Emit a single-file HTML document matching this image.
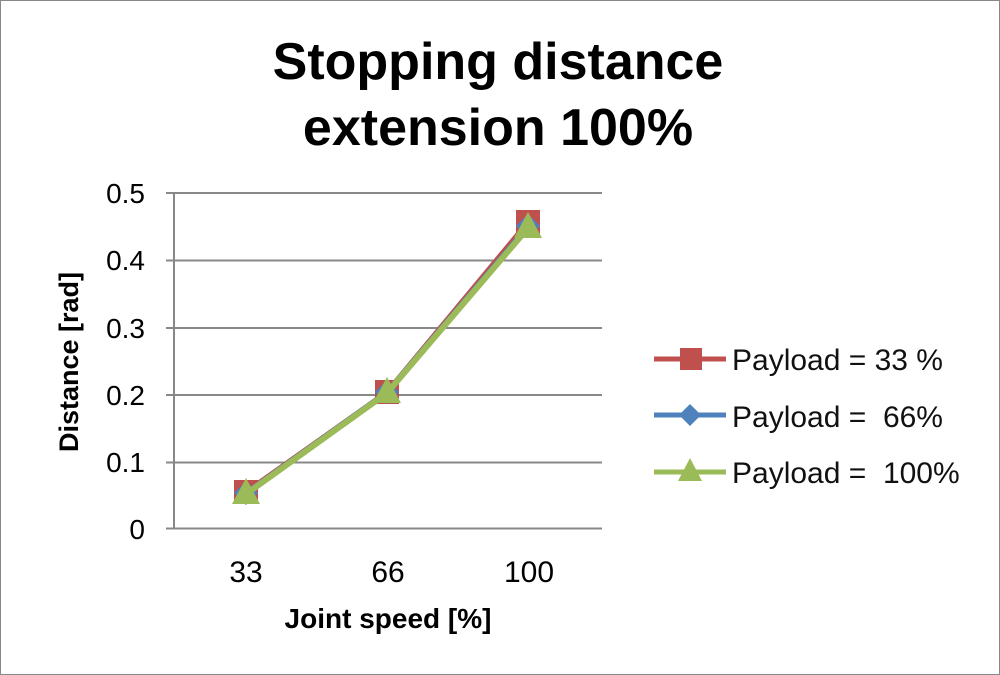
<!DOCTYPE html>
<html><head><meta charset="utf-8"><style>
html,body{margin:0;padding:0;background:#fff;}
svg{display:block;}
text{font-family:"Liberation Sans",sans-serif;}
</style></head><body>
<svg width="1000" height="675" viewBox="0 0 1000 675">
<rect x="0.5" y="0.5" width="999" height="674" fill="#fff" stroke="#888" stroke-width="1"/>
<text x="498" y="79" text-anchor="middle" font-size="52" font-weight="bold">Stopping distance</text>
<text x="498" y="145" text-anchor="middle" font-size="52" font-weight="bold">extension 100%</text>
<g stroke="#888" stroke-width="2">
<line x1="174" y1="193" x2="602" y2="193"/>
<line x1="174" y1="260.5" x2="602" y2="260.5"/>
<line x1="174" y1="328" x2="602" y2="328"/>
<line x1="174" y1="395" x2="602" y2="395"/>
<line x1="174" y1="462.5" x2="602" y2="462.5"/>
<line x1="174" y1="528.5" x2="602" y2="528.5"/>
<line x1="174" y1="193" x2="174" y2="529"/>
<line x1="166" y1="193" x2="174" y2="193"/>
<line x1="166" y1="260.5" x2="174" y2="260.5"/>
<line x1="166" y1="328" x2="174" y2="328"/>
<line x1="166" y1="395" x2="174" y2="395"/>
<line x1="166" y1="462.5" x2="174" y2="462.5"/>
<line x1="166" y1="528.5" x2="174" y2="528.5"/>
</g>
<g font-size="28" text-anchor="end" fill="#000">
<text x="145" y="203">0.5</text>
<text x="145" y="270">0.4</text>
<text x="145" y="338">0.3</text>
<text x="145" y="405">0.2</text>
<text x="145" y="472">0.1</text>
<text x="145" y="539">0</text>
</g>
<g font-size="30" text-anchor="middle">
<text x="246" y="582">33</text>
<text x="388" y="582">66</text>
<text x="529" y="582">100</text>
</g>
<text x="388" y="628" text-anchor="middle" font-size="28" font-weight="bold">Joint speed [%]</text>
<text transform="translate(78,362) rotate(-90)" text-anchor="middle" font-size="27" font-weight="bold">Distance [rad]</text>
<polyline points="246,492 387,392 528,222" fill="none" stroke="#c0504d" stroke-width="5"/>
<rect x="234" y="480" width="24" height="24" fill="#c0504d"/>
<rect x="375" y="380" width="24" height="24" fill="#c0504d"/>
<rect x="516" y="210" width="24" height="24" fill="#c0504d"/>
<polyline points="246,493 387,392 528,226" fill="none" stroke="#4f81bd" stroke-width="5"/>
<polygon points="258,493 246,481 234,493 246,505" fill="#4f81bd"/>
<polygon points="399,392 387,380 375,392 387,404" fill="#4f81bd"/>
<polygon points="540,226 528,214 516,226 528,238" fill="#4f81bd"/>
<polyline points="246,494 387,393 528,228" fill="none" stroke="#9bbb59" stroke-width="6"/>
<polygon points="246,478 232,504 260,504" fill="#9bbb59"/>
<polygon points="387,377 373,403 401,403" fill="#9bbb59"/>
<polygon points="528,212 514,238 542,238" fill="#9bbb59"/>
<line x1="654" y1="359" x2="726" y2="359" stroke="#c0504d" stroke-width="5"/>
<rect x="680" y="348" width="22" height="22" fill="#c0504d"/>
<line x1="654" y1="415" x2="726" y2="415" stroke="#4f81bd" stroke-width="5"/>
<polygon points="701,415 690,404 679,415 690,426" fill="#4f81bd"/>
<line x1="654" y1="472" x2="726" y2="472" stroke="#9bbb59" stroke-width="5"/>
<polygon points="690,458 678,481 702,481" fill="#9bbb59"/>
<g font-size="30" fill="#111">
<text x="732" y="370" xml:space="preserve">Payload = 33 %</text>
<text x="732" y="427" xml:space="preserve">Payload =  66%</text>
<text x="732" y="483" xml:space="preserve">Payload =  100%</text>
</g>
</svg>
</body></html>
